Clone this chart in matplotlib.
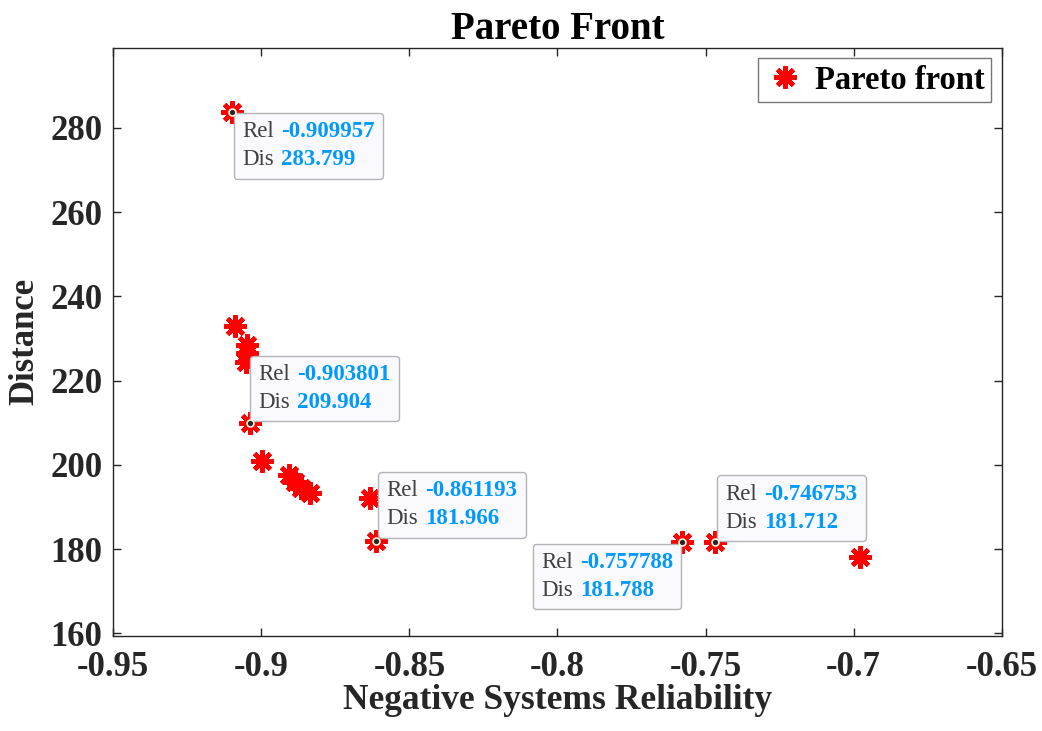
import matplotlib
matplotlib.use("Agg")
import matplotlib.pyplot as plt
from matplotlib.offsetbox import TextArea, HPacker, VPacker, AnnotationBbox
import numpy as np

# Pareto front points
reliability = [-0.909957, -0.9089, -0.9047, -0.9049, -0.9051, -0.903801, -0.8999,
               -0.8905, -0.8885, -0.8865, -0.8835, -0.8634, -0.861193,
               -0.757788, -0.746753, -0.6980]
distance = [283.799, 233.0, 228.5, 226.5, 224.5, 209.904, 201.0,
            197.6, 196.0, 194.6, 193.4, 192.1, 181.966,
            181.788, 181.712, 178.05]

# data tips: (x, y, box alignment, offset in pixels)
tip_x = [-0.909957, -0.903801, -0.861193, -0.757788, -0.746753]
tip_y = [283.799, 209.904, 181.966, 181.788, 181.712]
tip_align = [(0, 1), (0, 0), (0, 0), (1, 1), (0, 0)]
tip_offset = [(2, -1), (0, 2), (2, 3), (-1, -2), (2, 1)]

xticks = [-0.95, -0.9, -0.85, -0.8, -0.75, -0.7, -0.65]
xticklabels = ["-0.95", "-0.9", "-0.85", "-0.8", "-0.75", "-0.7", "-0.65"]
yticks = [160, 180, 200, 220, 240, 260, 280]

plt.rcParams['font.family'] = ['Liberation Serif', 'DejaVu Serif']
plt.rcParams['font.weight'] = 'bold'
plt.rcParams['axes.unicode_minus'] = False
dark = '#262626'

fig = plt.figure(figsize=(10.42, 7.31), dpi=100)
ax = fig.add_axes([0.1087, 0.130, 0.8526, 0.805])

ax.plot(reliability, distance, linestyle='none', marker=(8, 2, 0), markersize=16,
        markeredgewidth=3.2, color='red', label='Pareto front')

ax.set_xlim(-0.95, -0.65)
ax.set_ylim(159.36, 299.1)
ax.set_xticks(xticks)
ax.set_xticklabels(xticklabels)
ax.set_yticks(yticks)
ax.tick_params(direction='in', length=6, width=1, top=True, right=True,
               labelsize=25, colors=dark)
ax.tick_params(axis='x', pad=11)
ax.tick_params(axis='y', pad=8)
for lab in ax.get_xticklabels() + ax.get_yticklabels():
    lab.set_fontweight('bold')
for sp in ax.spines.values():
    sp.set_color(dark)
    sp.set_linewidth(1)

ax.set_title("Pareto Front", fontsize=28, fontweight='bold', color='black', pad=6)
ax.set_xlabel("Negative Systems Reliability", fontsize=25.5, fontweight='bold', color=dark, labelpad=0)
ax.set_ylabel("Distance", fontsize=25, fontweight='bold', color=dark, labelpad=6)

leg = ax.legend(loc='upper right', fontsize=23.5, frameon=True, fancybox=False,
                borderaxespad=0.33, handletextpad=0.25, borderpad=0.2, handlelength=1.3)
leg.get_frame().set_edgecolor('#555555')
leg.get_frame().set_linewidth(1)
for t in leg.get_texts():
    t.set_fontweight('bold')
    t.set_color('black')

# data tip markers
ax.plot(tip_x, tip_y, linestyle='none', marker='o', markersize=5,
        color=dark, markeredgecolor='#fff8e0', markeredgewidth=1.2, zorder=5)

for x, y, al, off in zip(tip_x, tip_y, tip_align, tip_offset):
    rows = []
    for name, val in (("Rel", f"{x:g}"), ("Dis", f"{y:g}")):
        a = TextArea(name, textprops=dict(fontsize=16.5, fontweight='normal', color='#404040'))
        b = TextArea(val, textprops=dict(fontsize=16.5, fontweight='bold', color='#0099ff'))
        rows.append(HPacker(children=[a, b], align='baseline', pad=0, sep=5))
    box = VPacker(children=rows, align='left', pad=6, sep=5)
    ab = AnnotationBbox(box, (x, y), xybox=off, xycoords='data', boxcoords='offset pixels',
                        box_alignment=al, frameon=True, pad=0,
                        bboxprops=dict(boxstyle='round,pad=0,rounding_size=0.25',
                                       fc='#f9f9fe', ec='#b4b4b4', lw=1))
    ax.add_artist(ab)

fig.savefig("out.png", dpi=100)
